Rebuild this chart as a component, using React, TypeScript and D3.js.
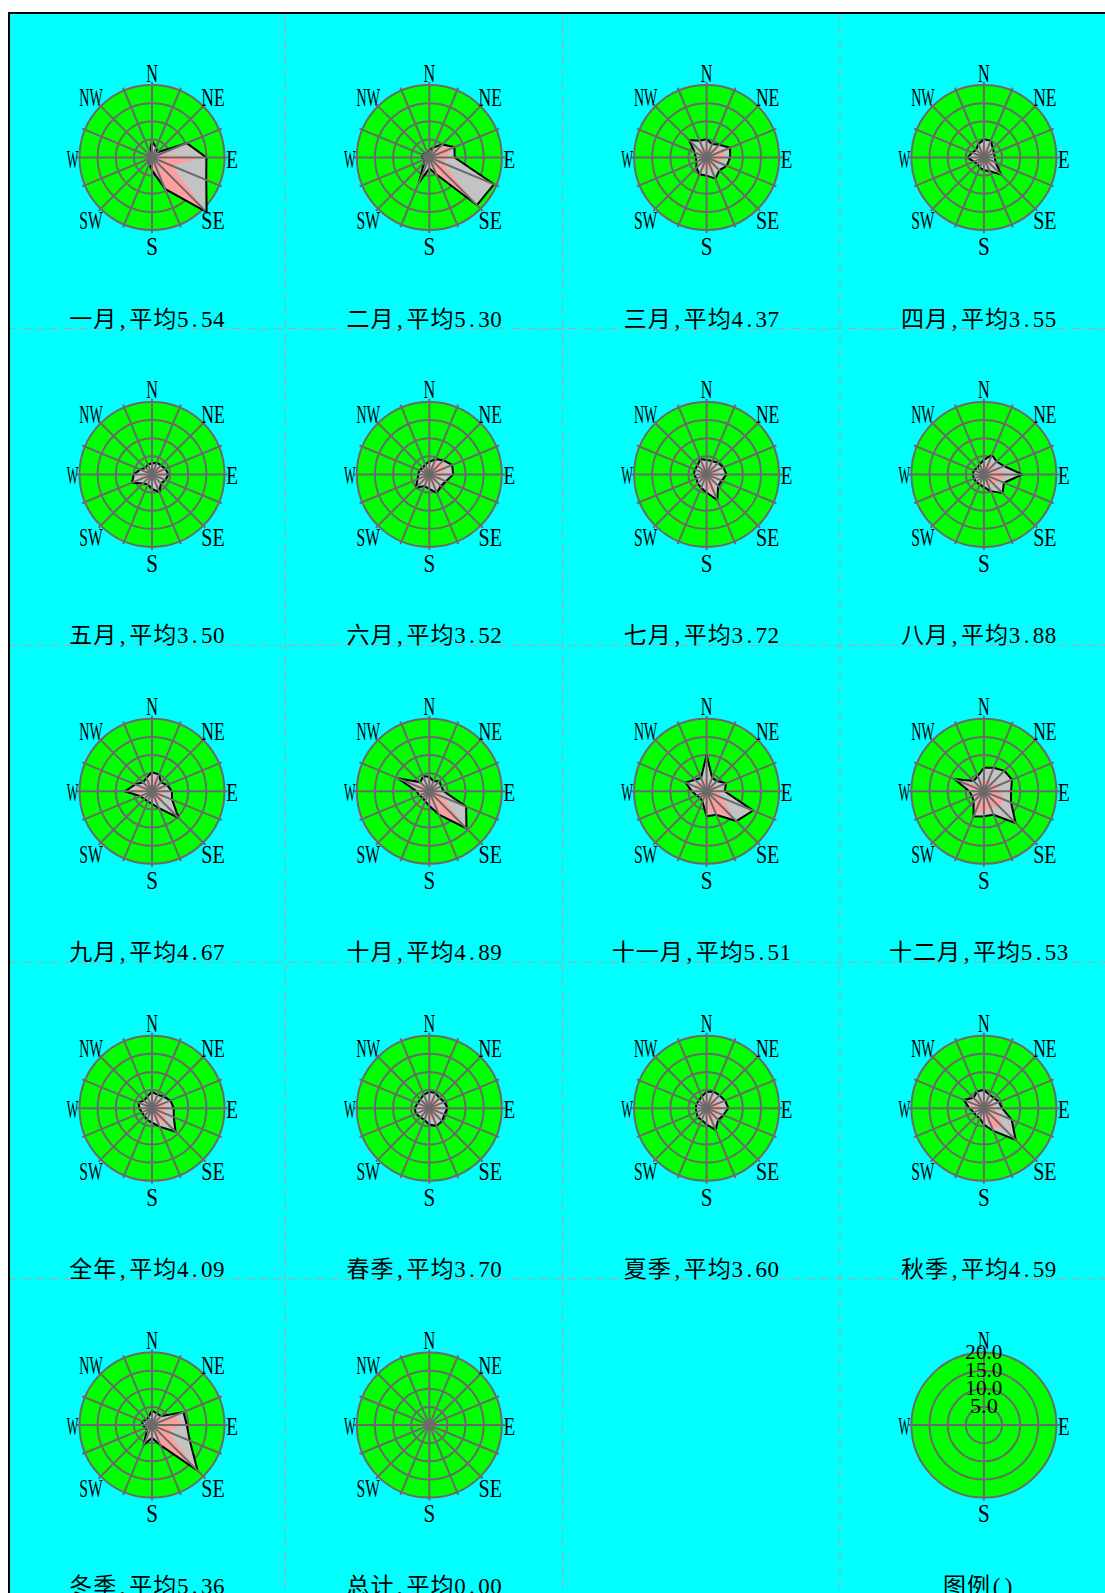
import React from 'react';
import * as d3 from 'd3';

// Sixteen compass sectors, clockwise from north
const DIRECTIONS = ['N', 'NNE', 'NE', 'ENE', 'E', 'ESE', 'SE', 'SSE', 'S', 'SSW', 'SW', 'WSW', 'W', 'WNW', 'NW', 'NNW'];
const COMPASS_LABELS = ['N', 'NE', 'E', 'SE', 'S', 'SW', 'W', 'NW'];
const LEGEND_LABELS = ['N', 'E', 'S', 'W'];

const PERIODS = ['一月', '二月', '三月', '四月', '五月', '六月', '七月', '八月', '九月', '十月', '十一月', '十二月', '全年', '春季', '夏季', '秋季', '冬季', '总计'];
const MEAN_SPEED = [5.54, 5.30, 4.37, 3.55, 3.50, 3.52, 3.72, 3.88, 4.67, 4.89, 5.51, 5.53, 4.09, 3.70, 3.60, 4.59, 5.36, 0.00];

const RING_TICKS = [5, 10, 15, 20];
const LEGEND_TITLE = '图例()';

// Direction frequency (%) — grey outlined polygon
const FREQ_JAN = [4.5, 3, 2, 10.4, 15, 16.2, 21.3, 9.4, 3.5, 2, 1.5, 1, 1, 1, 1, 1.5];
const FREQ_FEB = [2, 3, 5.1, 7.5, 7, 19.3, 18.6, 5, 3, 7.6, 2, 1.5, 2, 2, 1.5, 1.5];
const FREQ_MAR = [5, 4, 5, 7, 6.5, 6, 5, 6.3, 5, 5, 4, 3, 3, 3.5, 6.8, 5];
const FREQ_APR = [5, 5, 3.5, 3, 3, 3.5, 6.8, 4, 3.5, 3, 2.5, 3, 4.5, 3.5, 3, 4];
const FREQ_MAY = [3, 3.5, 3.5, 4, 4.5, 4, 3.5, 5.3, 4, 3, 3.5, 6, 5, 3.5, 2.5, 3];
const FREQ_JUN = [3.5, 4.5, 5.5, 6.8, 6.6, 5, 4.5, 5.5, 4, 3.5, 5.2, 3.5, 3, 3, 2.5, 3];
const FREQ_JUL = [4, 4, 4.5, 5, 5.5, 4.5, 4.5, 7.7, 5, 4, 3.5, 3, 3.5, 3.5, 3.5, 4.6];
const FREQ_AUG = [4, 5.8, 5, 6, 10.6, 6, 7.3, 5, 3.5, 3, 3, 3, 3, 3, 2.5, 3];
const FREQ_SEP = [5.3, 5, 3.5, 4.5, 5.5, 6, 10.4, 5, 3.5, 3, 3, 3.5, 7.5, 5, 3.5, 4];
const FREQ_OCT = [4, 3, 4, 3.5, 4, 11, 14.5, 7, 4, 3, 2.5, 3, 3.5, 9.4, 3.5, 4.5];
const FREQ_NOV = [10.1, 4, 4, 5.8, 5, 13.9, 11.6, 7, 6.9, 3, 2.5, 3, 4, 6.3, 4.5, 4];
const FREQ_DEC = [6.5, 7, 8, 8.4, 7.5, 8.1, 12.4, 7, 6.9, 7.5, 4, 3.5, 4, 8.8, 4, 4.5];
const FREQ_YEAR = [4.5, 4, 4.5, 5.5, 6, 6.5, 9.2, 5.5, 4, 3.5, 3, 3, 3.5, 4, 3, 3.5];
const FREQ_SPRING = [4.5, 4.5, 4, 4.5, 5, 4.5, 5, 5.3, 4.5, 3.5, 3.5, 4, 4, 3.5, 3.5, 4];
const FREQ_SUMMER = [4.5, 5, 5, 5.5, 6, 5, 4.5, 6.5, 4.5, 3.5, 3.5, 3, 3, 3, 3, 3.5];
const FREQ_AUTUMN = [5, 4, 4, 4.5, 5, 8.3, 12.4, 6.8, 4.5, 3, 3, 3, 4, 6, 4, 5];
const FREQ_WINTER = [4, 3.5, 3.5, 9.4, 9.6, 11.3, 17.8, 6, 3.5, 5.9, 2, 2, 2.5, 3, 2, 2.5];
const FREQ_TOTAL = [0, 0, 0, 0, 0, 0, 0, 0, 0, 0, 0, 0, 0, 0, 0, 0];

// Frequency (%) of the stronger winds — pink polygon
const HIGH_JAN = [1, 1, 1, 2.5, 14, 6, 20.5, 9, 2.5, 1, 1, 0.8, 0.8, 0.8, 0.8, 1];
const HIGH_FEB = [1.5, 2, 4.8, 6.5, 5, 4, 18.4, 4.5, 2, 2.5, 1, 1, 1, 1, 1, 1];
const HIGH_MAR = [3, 2.5, 3.5, 5, 5, 3.5, 3, 4, 3, 3, 2.5, 2, 2, 2, 3, 3];
const HIGH_APR = [3, 3, 2, 2, 2, 2, 3, 2.5, 2, 2, 1.5, 2, 3.5, 2, 2, 2.5];
const HIGH_MAY = [2, 2, 2.5, 3, 3.5, 2.5, 2, 2.5, 2, 2, 2, 3.5, 3, 2, 1.5, 2];
const HIGH_JUN = [2, 3.5, 4.5, 5, 4, 3, 2.5, 3, 2.5, 2, 3.5, 2, 2, 2, 1.5, 2];
const HIGH_JUL = [2.5, 2.5, 3, 3, 3.5, 2.5, 2.5, 6.5, 3.5, 2.5, 2, 2, 2, 2, 2, 3.5];
const HIGH_AUG = [2.5, 4, 3, 3.5, 7, 4.5, 4, 3, 2, 2, 2, 2, 2, 2, 1.5, 2];
const HIGH_SEP = [3.5, 4.5, 2.5, 3, 3, 3, 4, 3, 2.5, 2, 2, 2.5, 6, 3, 2.5, 3];
const HIGH_OCT = [2.5, 2, 2.5, 2, 2.5, 4, 13.5, 6.5, 2.5, 2, 1.5, 2, 2.5, 6, 2, 2.5];
const HIGH_NOV = [4, 2, 2.5, 3, 3, 5, 10, 6.5, 5.5, 2, 1.5, 2, 2.5, 4, 3, 2.5];
const HIGH_DEC = [3, 3, 3.5, 3.5, 4.5, 6, 6, 5, 6, 6.5, 3, 3, 3, 7, 2.5, 3];
const HIGH_YEAR = [2.5, 2.5, 3, 3.5, 4, 3.5, 7, 4, 2.5, 2, 2, 2, 2, 2.5, 2, 2];
const HIGH_SPRING = [2.5, 2.5, 2.5, 3, 3, 2.5, 3, 3.5, 3, 2, 2, 2.5, 2.5, 2, 2, 2.5];
const HIGH_SUMMER = [2.5, 3.5, 3, 3.5, 4, 3.5, 3, 5, 3, 2, 2, 2, 2, 2, 2, 2];
const HIGH_AUTUMN = [3, 2, 2.5, 2.5, 3, 4, 8, 5.5, 3, 2, 2, 2, 3, 4.5, 2.5, 3];
const HIGH_WINTER = [2, 2, 2, 7, 8.5, 5, 17, 5.5, 2, 2.5, 1, 1, 1.5, 2, 1, 1.5];
const HIGH_TOTAL = [0, 0, 0, 0, 0, 0, 0, 0, 0, 0, 0, 0, 0, 0, 0, 0];

const FREQUENCY = [FREQ_JAN, FREQ_FEB, FREQ_MAR, FREQ_APR, FREQ_MAY, FREQ_JUN, FREQ_JUL, FREQ_AUG, FREQ_SEP, FREQ_OCT, FREQ_NOV, FREQ_DEC, FREQ_YEAR, FREQ_SPRING, FREQ_SUMMER, FREQ_AUTUMN, FREQ_WINTER, FREQ_TOTAL];
const HIGH_FREQUENCY = [HIGH_JAN, HIGH_FEB, HIGH_MAR, HIGH_APR, HIGH_MAY, HIGH_JUN, HIGH_JUL, HIGH_AUG, HIGH_SEP, HIGH_OCT, HIGH_NOV, HIGH_DEC, HIGH_YEAR, HIGH_SPRING, HIGH_SUMMER, HIGH_AUTUMN, HIGH_WINTER, HIGH_TOTAL];

// Layout
const W = 1105;
const H = 1593;
const ORIGIN_X = 8;
const ORIGIN_Y = 12;
const CELL_W = 277.3;
const CELL_H = 316.9;
const ROSE_DX = 144;
const ROSE_DY = 145.5;
const TITLE_DY = 314.5;
const COLS = 4;

const BG = '#00ffff';
const DISC = '#00ff00';
const GRID = '#6a6a6a';
const GREY_FILL = '#c3c3c3';
const PINK_FILL = '#ff9e9e';
const DASH = '#b8a2a2';

const rScale = d3.scaleLinear().domain([0, 20]).range([0, 72.5]);
const SPOKE_LEN = rScale(20) + 3;

const angleScale = d3.scaleLinear().domain([0, DIRECTIONS.length]).range([0, 2 * Math.PI]);

const radialPath = d3
  .lineRadial<number>()
  .angle((_d, i) => angleScale(i))
  .radius((d) => rScale(d))
  .curve(d3.curveLinearClosed);

// text baseline offsets of compass labels relative to the rose centre
const LABEL_OFFSET: Record<string, [number, number]> = {
  N: [0, -76],
  NE: [61, -51.6],
  E: [80, 10],
  SE: [61, 71.7],
  S: [0, 97.3],
  SW: [-61, 71.7],
  W: [-79.5, 10],
  NW: [-61, -51.6],
};

const LATIN_FONT = '"Liberation Serif", "DejaVu Serif", serif';
const CJK_FONT = '"Noto Sans CJK SC", "Noto Sans", sans-serif';

const isCJK = (ch: string) => /[\u3400-\u9fff\uff00-\uffef]/.test(ch);

// Titles are laid out on a fixed grid: full-width cells for CJK, half-width for ASCII
function Title({ text, cx, y }: { text: string; cx: number; y: number }) {
  const chars = [...text];
  const widths = chars.map((ch) => (isCJK(ch) ? 24 : 12));
  const total = d3.sum(widths);
  let x = cx - total / 2;
  return (
    <g>
      {chars.map((ch, i) => {
        const w = widths[i];
        const cjk = isCJK(ch);
        const el = (
          <text
            key={i}
            x={x + w / 2}
            y={y}
            textAnchor="middle"
            fontFamily={cjk ? CJK_FONT : LATIN_FONT}
            fontSize={cjk ? 23 : 23}
            fill="#000"
          >
            {ch}
          </text>
        );
        x += w;
        return el;
      })}
    </g>
  );
}

function CompassLabel({ label, cx, cy }: { label: string; cx: number; cy: number }) {
  const [dx, dy] = LABEL_OFFSET[label];
  const w = label.length * 11.7;
  return (
    <text
      x={cx + dx - w / 2}
      y={cy + dy}
      textLength={w}
      lengthAdjust="spacingAndGlyphs"
      fontFamily={LATIN_FONT}
      fontSize={25}
      fill="#000"
    >
      {label}
    </text>
  );
}

function RoseBase({ cx, cy }: { cx: number; cy: number }) {
  return (
    <g>
      <circle cx={cx} cy={cy} r={rScale(20)} fill={DISC} stroke={GRID} strokeWidth={2} />
      {RING_TICKS.slice(0, -1).map((t) => (
        <circle key={t} cx={cx} cy={cy} r={rScale(t)} fill="none" stroke={GRID} strokeWidth={2} />
      ))}
    </g>
  );
}

function Spokes({ cx, cy, indices }: { cx: number; cy: number; indices: number[] }) {
  return (
    <g>
      {indices.map((i) => {
        const [x, y] = d3.pointRadial(angleScale(i), SPOKE_LEN);
        return <line key={i} x1={cx} y1={cy} x2={cx + x} y2={cy + y} stroke={GRID} strokeWidth={2} />;
      })}
    </g>
  );
}

function Rose({ index }: { index: number }) {
  const col = index % COLS;
  const row = Math.floor(index / COLS);
  const cx = ORIGIN_X + col * CELL_W + ROSE_DX;
  const cy = ORIGIN_Y + row * CELL_H + ROSE_DY;
  const freq = FREQUENCY[index];
  const high = HIGH_FREQUENCY[index];
  const hasData = d3.max(freq)! > 0;
  const allSpokes = DIRECTIONS.map((_d, i) => i);
  const title = `${PERIODS[index]},平均${MEAN_SPEED[index].toFixed(2)}`;
  return (
    <g>
      <RoseBase cx={cx} cy={cy} />
      {hasData && (
        <g transform={`translate(${cx},${cy})`}>
          <path d={radialPath(freq) || ''} fill={GREY_FILL} stroke="none" />
          <path d={radialPath(high) || ''} fill={PINK_FILL} stroke="none" />
          <path d={radialPath(freq) || ''} fill="none" stroke="#000" strokeWidth={2} strokeLinejoin="miter" />
        </g>
      )}
      <Spokes cx={cx} cy={cy} indices={allSpokes} />
      {COMPASS_LABELS.map((l) => (
        <CompassLabel key={l} label={l} cx={cx} cy={cy} />
      ))}
      <Title text={title} cx={ORIGIN_X + col * CELL_W + CELL_W / 2} y={ORIGIN_Y + row * CELL_H + TITLE_DY} />
    </g>
  );
}

function Legend({ index }: { index: number }) {
  const col = index % COLS;
  const row = Math.floor(index / COLS);
  const cx = ORIGIN_X + col * CELL_W + ROSE_DX;
  const cy = ORIGIN_Y + row * CELL_H + ROSE_DY;
  const axes = [0, 4, 8, 12];
  return (
    <g>
      <RoseBase cx={cx} cy={cy} />
      <Spokes cx={cx} cy={cy} indices={axes} />
      {LEGEND_LABELS.map((l) => (
        <CompassLabel key={l} label={l} cx={cx} cy={cy} />
      ))}
      {RING_TICKS.map((t) => {
        const label = t.toFixed(1);
        const w = label.length * 9.3;
        return (
          <text
            key={t}
            x={cx - w / 2}
            y={cy - rScale(t) + 6}
            textLength={w}
            lengthAdjust="spacingAndGlyphs"
            fontFamily={LATIN_FONT}
            fontSize={22}
            fill="#000"
          >
            {label}
          </text>
        );
      })}
      <Title text={LEGEND_TITLE} cx={ORIGIN_X + col * CELL_W + CELL_W / 2} y={ORIGIN_Y + row * CELL_H + TITLE_DY} />
    </g>
  );
}

export default function App() {
  const vLines = d3.range(1, COLS).map((k) => ORIGIN_X + k * CELL_W);
  const hLines = d3.range(1, 6).map((k) => ORIGIN_Y + k * CELL_H - 0.4);
  return (
    <svg
      width={W}
      height={H}
      viewBox={`0 0 ${W} ${H}`}
      style={{ position: 'absolute', left: 0, top: 0, display: 'block' }}
    >
      <rect x={0} y={0} width={W} height={H} fill="#fff" />
      <rect x={ORIGIN_X} y={ORIGIN_Y} width={W} height={H} fill={BG} />
      {vLines.map((x) => (
        <line key={`v${x}`} x1={x} y1={ORIGIN_Y} x2={x} y2={H} stroke={DASH} strokeWidth={1} strokeDasharray="9,5" />
      ))}
      {hLines.map((y) => (
        <line key={`h${y}`} x1={ORIGIN_X} y1={y} x2={W} y2={y} stroke={DASH} strokeWidth={1} strokeDasharray="9,5" />
      ))}
      <line x1={ORIGIN_X} y1={ORIGIN_Y + 1} x2={W} y2={ORIGIN_Y + 1} stroke="#000" strokeWidth={2} />
      <line x1={ORIGIN_X + 1} y1={ORIGIN_Y} x2={ORIGIN_X + 1} y2={H} stroke="#000" strokeWidth={2} />
      {PERIODS.map((_p, i) => (
        <Rose key={i} index={i} />
      ))}
      <Legend index={19} />
    </svg>
  );
}
